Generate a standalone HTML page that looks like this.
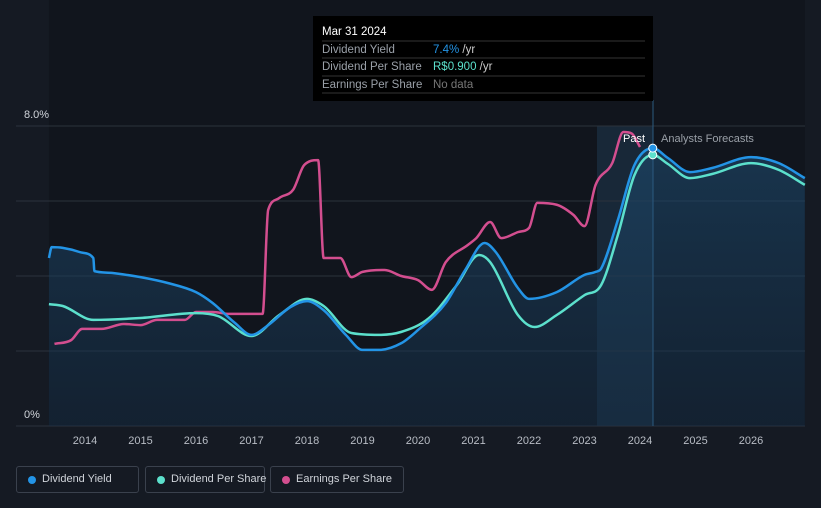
<!DOCTYPE html>
<html><head><meta charset="utf-8"><style>
body{margin:0;width:821px;height:508px;background:#151a23;font-family:"Liberation Sans",sans-serif;overflow:hidden;position:relative}
.leg{position:absolute;top:466px;height:27px;border:1px solid #3a414d;border-radius:3px;color:#d0d4da;font-size:11px;line-height:25px;box-sizing:border-box;padding-left:25px;white-space:nowrap}
.leg i{position:absolute;left:11px;top:9px;width:8px;height:8px;border-radius:50%}
</style></head><body>
<svg id="c" width="821" height="508" style="position:absolute;left:0;top:0"></svg>
<div class="leg" style="left:16px;width:123px"><i style="background:#2394e6"></i>Dividend Yield</div>
<div class="leg" style="left:145px;width:120px"><i style="background:#5ce0cc"></i>Dividend Per Share</div>
<div class="leg" style="left:270px;width:134px"><i style="background:#d34e8f"></i>Earnings Per Share</div>
<script>
const years=[2014,2015,2016,2017,2018,2019,2020,2021,2022,2023,2024,2025,2026];
const yTicks=[0,8];
const yieldT=[2013.35,2013.4,2013.6,2013.9,2014.15,2014.17,2014.5,2015,2015.5,2016,2016.3,2016.7,2017,2017.3,2017.7,2018,2018.3,2018.7,2019,2019.3,2019.7,2020,2020.5,2020.85,2021.2,2021.4,2021.8,2022,2022.5,2023,2023.2,2023.3,2023.6,2023.9,2024.23,2024.5,2024.9,2025.3,2026,2026.5,2026.97];
const yieldV=[4.48,4.77,4.75,4.64,4.48,4.13,4.08,3.97,3.81,3.57,3.28,2.75,2.43,2.69,3.17,3.33,3.09,2.43,2.03,2.03,2.21,2.56,3.28,4.16,4.88,4.64,3.68,3.39,3.57,4.03,4.11,4.2,5.49,6.96,7.41,7.15,6.77,6.88,7.17,7.01,6.61];
const dpsT=[2013.35,2013.6,2014.15,2015,2016,2016.4,2017,2017.5,2018,2018.3,2018.8,2019.3,2019.7,2020.2,2020.7,2021.1,2021.3,2021.8,2022.1,2022.5,2023,2023.3,2023.6,2023.9,2024.23,2024.5,2024.9,2025.3,2026,2026.5,2026.97];
const dpsV=[3.25,3.2,2.83,2.88,3.01,2.93,2.4,2.96,3.39,3.2,2.48,2.43,2.51,2.88,3.76,4.56,4.37,2.96,2.64,2.96,3.49,3.76,5.09,6.69,7.23,6.99,6.61,6.72,7.01,6.83,6.43];
const epsT=[2013.45,2013.75,2013.95,2014.3,2014.7,2015,2015.3,2015.8,2016,2016.3,2016.6,2017.2,2017.3,2017.5,2017.75,2017.95,2018.2,2018.3,2018.6,2018.8,2019,2019.4,2019.7,2020,2020.25,2020.5,2020.9,2021.05,2021.3,2021.5,2021.8,2022,2022.15,2022.5,2022.8,2023,2023.2,2023.5,2023.7,2023.85,2024.0];
const epsV=[2.19,2.29,2.59,2.59,2.72,2.69,2.83,2.83,3.04,3.04,2.99,2.99,5.76,6.08,6.3,6.96,7.09,4.48,4.48,3.97,4.11,4.16,4.0,3.89,3.63,4.37,4.83,5.01,5.44,5.01,5.17,5.28,5.95,5.9,5.63,5.33,6.43,7.01,7.84,7.8,7.44];
const NS='http://www.w3.org/2000/svg';
const svg=document.getElementById('c');
const x=t=>85+(t-2014)*55.5;
const y=v=>426-v/8*300;
function el(tag,a,parent){const e=document.createElementNS(NS,tag);for(const k in a)e.setAttribute(k,a[k]);(parent||svg).appendChild(e);return e;}
function path(T,V){
  const p=T.map((t,i)=>[x(t),y(V[i])]);const n=p.length;
  const d=[],m=[];
  for(let i=0;i<n-1;i++)d.push((p[i+1][1]-p[i][1])/(p[i+1][0]-p[i][0]));
  m[0]=d[0];m[n-1]=d[n-2];
  for(let i=1;i<n-1;i++){m[i]=(d[i-1]*d[i]<=0)?0:(d[i-1]+d[i])/2;
    const a=m[i]/d[i-1],b=m[i]/d[i],s=a*a+b*b;if(s>9){const t=3/Math.sqrt(s);m[i]=t*(m[i]);}}
  let s='M'+p[0][0]+','+p[0][1];
  for(let i=0;i<n-1;i++){const h=(p[i+1][0]-p[i][0])/3;
    s+=` C${p[i][0]+h},${p[i][1]+m[i]*h} ${p[i+1][0]-h},${p[i+1][1]-m[i+1]*h} ${p[i+1][0]},${p[i+1][1]}`;}
  return s;}
const defs=el('defs',{});
const g=el('linearGradient',{id:'gr',x1:0,y1:0,x2:0,y2:1},defs);
el('stop',{offset:0,'stop-color':'#1d4a6e','stop-opacity':0.8},g);
el('stop',{offset:1,'stop-color':'#163049','stop-opacity':0.6},g);
const bg=el('rect',{x:x(yieldT[0]),y:0,width:805-x(yieldT[0]),height:426,fill:'#11151d'});


const past=el('rect',{x:597,y:126,width:56,height:300,fill:'#1a2d40',opacity:0.8});


yTicks.concat([2,4,6]).forEach(v=>{const l=el('line',{x1:16,x2:805,y1:y(v),y2:y(v),stroke:'#2c323c','stroke-width':1});

});
yTicks.forEach(v=>{const t=el('text',{x:24,y:y(v)-8,fill:'#d0d4da','font-size':11,'font-family':'Liberation Sans'});t.textContent=v.toFixed(v?1:0)+'%';

});
years.forEach(yr=>{const t=el('text',{x:x(yr),y:444,fill:'#b8bdc5','font-size':11,'text-anchor':'middle','font-family':'Liberation Sans'});t.textContent=yr;

});
const area=el('path',{d:path(yieldT,yieldV)+` L${x(yieldT[yieldT.length-1])},426 L${x(yieldT[0])},426 Z`,fill:'url(#gr)',opacity:0.75});


const vl=el('line',{x1:653,x2:653,y1:100,y2:426,stroke:'#2b5a80','stroke-width':1});


const eps=el('path',{d:path(epsT,epsV),fill:'none',stroke:'#d34e8f','stroke-width':2.5});


const dps=el('path',{d:path(dpsT,dpsV),fill:'none',stroke:'#5ce0cc','stroke-width':2.5});


const yl=el('path',{d:path(yieldT,yieldV),fill:'none',stroke:'#2394e6','stroke-width':2.5});


const m1=el('circle',{cx:x(2024.23),cy:y(7.23),r:4,fill:'#5ce0cc',stroke:'#fff','stroke-width':1});


const m2=el('circle',{cx:x(2024.23),cy:y(7.41),r:4,fill:'#2394e6',stroke:'#fff','stroke-width':1});


const pt=el('text',{x:645,y:142,fill:'#fff','font-size':11,'text-anchor':'end'});pt.textContent='Past';


const ft=el('text',{x:661,y:142,fill:'#9aa0a8','font-size':11});ft.textContent='Analysts Forecasts';


const tg=el('g',{});


el('rect',{x:313,y:16,width:340,height:85,fill:'#000'},tg);
[41,58,76,93].forEach(yy=>el('line',{x1:322,x2:645,y1:yy,y2:yy,stroke:'#333','stroke-width':1},tg));
const rows=[['Mar 31 2024',35,'#fff',''],['Dividend Yield',53,'#9aa0a8','7.4%'],['Dividend Per Share',70,'#9aa0a8','R$0.900'],['Earnings Per Share',88,'#9aa0a8','No data']];
const vc=['','#2394e6','#5ce0cc','#777'];
rows.forEach((r,i)=>{const t=el('text',{x:322,y:r[1],fill:r[2],'font-size':11.5},tg);t.textContent=r[0];
if(r[3]){const v=el('text',{x:433,y:r[1],fill:vc[i],'font-size':11.5},tg);v.textContent=r[3];
if(i<3){const s=el('tspan',{fill:'#ccc'},v);s.textContent=' /yr';}}});
</script>
</body></html>
